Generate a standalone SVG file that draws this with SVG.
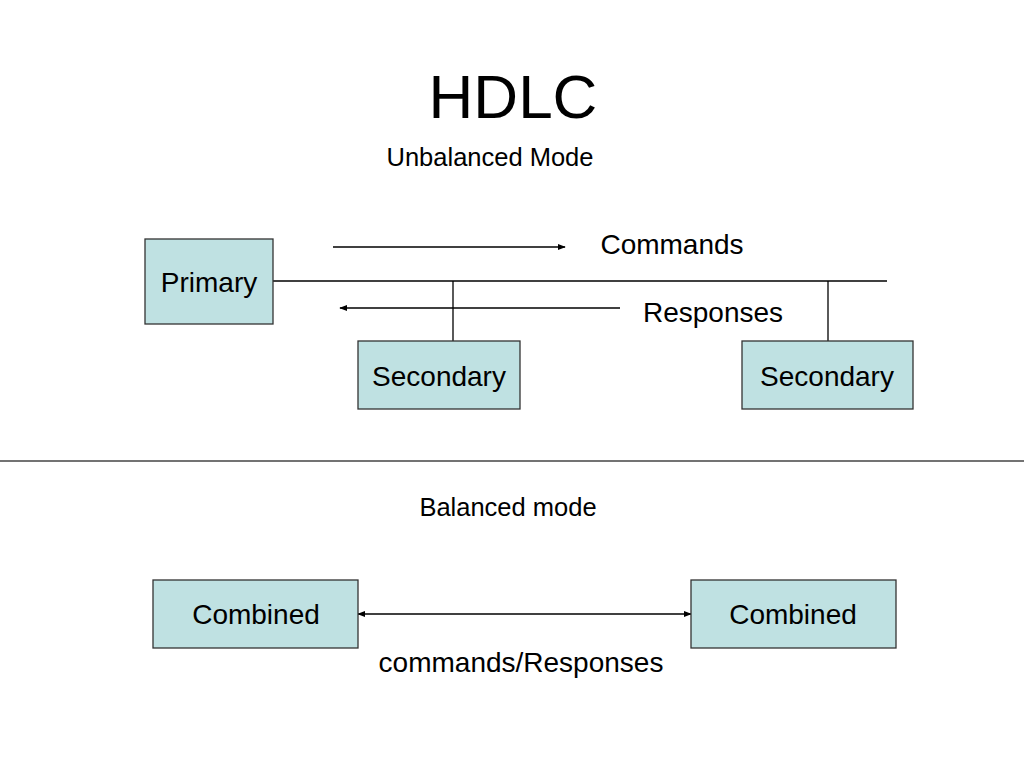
<svg xmlns="http://www.w3.org/2000/svg" width="1024" height="768" viewBox="0 0 1024 768">
<style>
.box{fill:#bfe1e2;stroke:#333;stroke-width:1.3}
.t{font-family:"Liberation Sans",Arial,sans-serif;fill:#000}
.ln{stroke:#000;stroke-width:1.3;fill:none}
</style>
<defs>
<marker id="ah" viewBox="0 0 10 10" refX="9" refY="5" markerWidth="8" markerHeight="8" markerUnits="userSpaceOnUse" orient="auto-start-reverse">
<path d="M0,1 L10,5 L0,9 Z" fill="#000"/>
</marker>
</defs>
<rect width="1024" height="768" fill="#fff"/>
<text class="t" x="513" y="118" font-size="62" text-anchor="middle">HDLC</text>
<text class="t" x="490" y="166" font-size="25.5" text-anchor="middle">Unbalanced Mode</text>
<text class="t" x="508" y="516" font-size="25.5" text-anchor="middle">Balanced mode</text>
<g id="connectors">
<line class="ln" x1="273" y1="281" x2="887" y2="281"/>
<line class="ln" x1="453" y1="281" x2="453" y2="341"/>
<line class="ln" x1="828" y1="281" x2="828" y2="341"/>
<line class="ln" x1="333" y1="247" x2="565" y2="247" marker-end="url(#ah)"/>
<line class="ln" x1="620" y1="308" x2="340" y2="308" marker-end="url(#ah)"/>
<line class="ln" x1="358" y1="614" x2="691" y2="614" marker-start="url(#ah)" marker-end="url(#ah)"/>
<line x1="0" y1="461" x2="1024" y2="461" stroke="#444" stroke-width="1.5"/>
</g>
<text class="t" x="672" y="254" font-size="28" text-anchor="middle">Commands</text>
<text class="t" x="713" y="322" font-size="28" text-anchor="middle">Responses</text>
<text class="t" x="521" y="672" font-size="28" text-anchor="middle">commands/Responses</text>
<g id="primary">
<rect class="box" x="145" y="239" width="128" height="85"/>
<text class="t" x="209" y="292" font-size="28" text-anchor="middle">Primary</text>
</g>
<g id="secondary1">
<rect class="box" x="358" y="341" width="162" height="68"/>
<text class="t" x="439" y="386" font-size="28" text-anchor="middle">Secondary</text>
</g>
<g id="secondary2">
<rect class="box" x="742" y="341" width="171" height="68"/>
<text class="t" x="827" y="386" font-size="28" text-anchor="middle">Secondary</text>
</g>
<g id="combined1">
<rect class="box" x="153" y="580" width="205" height="68"/>
<text class="t" x="256" y="624" font-size="28" text-anchor="middle">Combined</text>
</g>
<g id="combined2">
<rect class="box" x="691" y="580" width="205" height="68"/>
<text class="t" x="793" y="624" font-size="28" text-anchor="middle">Combined</text>
</g>
</svg>
